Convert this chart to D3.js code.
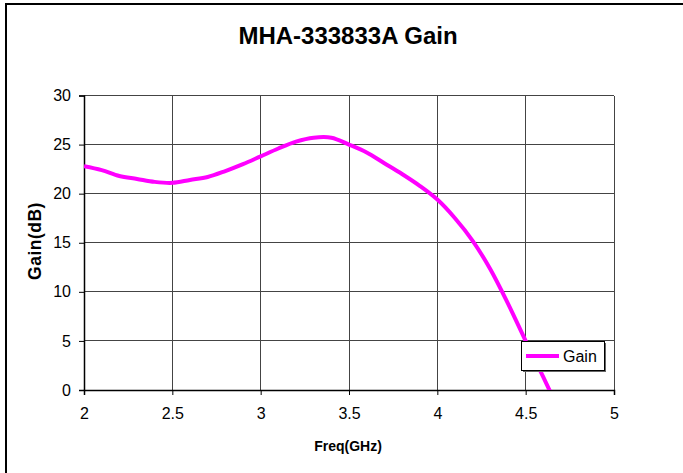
<!DOCTYPE html>
<html>
<head>
<meta charset="utf-8">
<script src="https://cdn.jsdelivr.net/npm/d3@7"></script>
<style>
html,body{margin:0;padding:0;background:#fff;}
svg{display:block;font-family:"Liberation Sans",Arial,sans-serif;}
</style>
</head>
<body>
<svg id="chart" width="683" height="473"></svg>
<script>
const titleText = "MHA-333833A Gain";
const xLabel = "Freq(GHz)";
const yLabel = "Gain(dB)";
const seriesName = "Gain";
const freq = [2.0,2.1,2.2,2.3,2.4,2.5,2.6,2.7,2.8,2.9,3.0,3.1,3.2,3.3,3.4,3.5,3.6,3.7,3.8,3.9,4.0,4.1,4.2,4.3,4.4,4.5,4.6,4.7];
const gain = [22.8,22.4,21.8,21.5,21.2,21.1,21.4,21.7,22.3,23.0,23.8,24.6,25.3,25.7,25.7,25.0,24.2,23.1,22.0,20.8,19.4,17.5,15.2,12.3,8.8,5.0,1.3,-2.5];
const xTicks = [2,2.5,3,3.5,4,4.5,5];
const yTicks = [0,5,10,15,20,25,30];

const svg = d3.select("#chart");
const L = 84, R = 614, T = 95.5, B = 390;
const x = d3.scaleLinear().domain([2,5]).range([L,R]);
const y = d3.scaleLinear().domain([0,30]).range([B,T]);

// outer border
svg.append("rect").attr("x",6).attr("y",4).attr("width",700).attr("height",500)
  .attr("fill","#fff").attr("stroke","#000").attr("stroke-width",2);

// title
svg.append("text").attr("x",348).attr("y",44).attr("text-anchor","middle")
  .attr("font-size",24).attr("font-weight","bold").text(titleText);

// gridlines
const grid = svg.append("g");
grid.selectAll("line.h").data(yTicks.filter(d=>d>0)).enter().append("line")
  .attr("x1",L).attr("x2",R).attr("y1",d=>y(d)).attr("y2",d=>y(d))
  .attr("stroke","#444").attr("stroke-width",1).attr("shape-rendering","crispEdges");
grid.selectAll("line.v").data(xTicks.filter(d=>d>2)).enter().append("line")
  .attr("y1",T).attr("y2",B).attr("x1",d=>x(d)).attr("x2",d=>x(d))
  .attr("stroke","#444").attr("stroke-width",1).attr("shape-rendering","crispEdges");

// axes
const xAxis = svg.append("g").attr("transform",`translate(0,${B})`)
  .call(d3.axisBottom(x).tickValues(xTicks).tickSize(5).tickPadding(13).tickFormat(d3.format("")));
const yAxis = svg.append("g").attr("transform",`translate(${L},0)`)
  .call(d3.axisLeft(y).tickValues(yTicks).tickSize(5).tickPadding(8));
[xAxis,yAxis].forEach(a=>{
  a.select(".domain").attr("stroke","#000").attr("stroke-width",1.5);
  a.selectAll(".tick line").attr("stroke","#000");
  a.selectAll(".tick text").attr("font-size",16).attr("fill","#000")
    .attr("font-family","'Liberation Sans',Arial,sans-serif");
});

// clip
svg.append("clipPath").attr("id","clip").append("rect")
  .attr("x",L).attr("y",T-5).attr("width",R-L).attr("height",B-T+5);

const line = d3.line().x((d,i)=>x(freq[i])).y(d=>y(d)).curve(d3.curveCatmullRom.alpha(0.5));
svg.append("path").datum(gain).attr("clip-path","url(#clip)")
  .attr("d",line).attr("fill","none").attr("stroke","#FF00FF").attr("stroke-width",4)
  .attr("stroke-linejoin","round");

// axis titles
svg.append("text").attr("x",348).attr("y",451).attr("text-anchor","middle")
  .attr("font-size",14).attr("font-weight","bold").text(xLabel);
svg.append("text").attr("transform",`translate(40.5,241) rotate(-90)`)
  .attr("text-anchor","middle").attr("font-size",17.5).attr("font-weight","bold")
  .attr("letter-spacing",0.5).text(yLabel);

// legend
const lg = svg.append("g");
lg.append("rect").attr("x",523).attr("y",343).attr("width",83).attr("height",29).attr("fill","#666");
lg.append("rect").attr("x",521.5).attr("y",341.5).attr("width",83).attr("height",29)
  .attr("fill","#fff").attr("stroke","#000").attr("stroke-width",1);
lg.append("line").attr("x1",526).attr("x2",559).attr("y1",356).attr("y2",356)
  .attr("stroke","#FF00FF").attr("stroke-width",4);
lg.append("text").attr("x",563).attr("y",362).attr("font-size",16).text(seriesName);
</script>
</body>
</html>
